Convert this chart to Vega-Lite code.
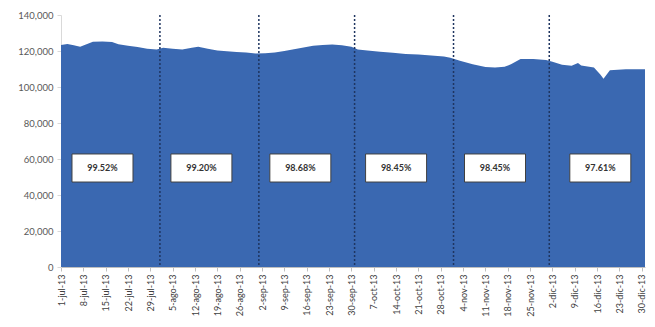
{
  "$schema": "https://vega.github.io/schema/vega-lite/v6.json",
  "width": 584,
  "height": 252,
  "autosize": {"type": "none"},
  "padding": {"left": 61, "top": 15, "right": 10, "bottom": 60},
  "background": "white",
  "config": {"view": {"stroke": null}, "font": "Lato"},
  "datasets": {
    "series": [
      {"date": "2013-07-01", "value": 123300},
      {"date": "2013-07-03", "value": 123900},
      {"date": "2013-07-05", "value": 123200},
      {"date": "2013-07-07", "value": 122300},
      {"date": "2013-07-09", "value": 123800},
      {"date": "2013-07-11", "value": 125200},
      {"date": "2013-07-14", "value": 125300},
      {"date": "2013-07-17", "value": 125000},
      {"date": "2013-07-19", "value": 123700},
      {"date": "2013-07-22", "value": 122900},
      {"date": "2013-07-25", "value": 122200},
      {"date": "2013-07-28", "value": 121300},
      {"date": "2013-07-31", "value": 120800},
      {"date": "2013-08-02", "value": 121800},
      {"date": "2013-08-05", "value": 121300},
      {"date": "2013-08-08", "value": 120900},
      {"date": "2013-08-11", "value": 121800},
      {"date": "2013-08-13", "value": 122300},
      {"date": "2013-08-16", "value": 121200},
      {"date": "2013-08-19", "value": 120300},
      {"date": "2013-08-22", "value": 119900},
      {"date": "2013-08-25", "value": 119500},
      {"date": "2013-08-28", "value": 119100},
      {"date": "2013-08-31", "value": 118600},
      {"date": "2013-09-03", "value": 118700},
      {"date": "2013-09-06", "value": 119200},
      {"date": "2013-09-09", "value": 120000},
      {"date": "2013-09-12", "value": 121000},
      {"date": "2013-09-15", "value": 122000},
      {"date": "2013-09-18", "value": 122900},
      {"date": "2013-09-21", "value": 123400},
      {"date": "2013-09-24", "value": 123600},
      {"date": "2013-09-27", "value": 123200},
      {"date": "2013-09-30", "value": 122400},
      {"date": "2013-10-02", "value": 120900},
      {"date": "2013-10-05", "value": 120300},
      {"date": "2013-10-09", "value": 119600},
      {"date": "2013-10-13", "value": 119000},
      {"date": "2013-10-17", "value": 118400},
      {"date": "2013-10-21", "value": 118000},
      {"date": "2013-10-25", "value": 117500},
      {"date": "2013-10-29", "value": 116900},
      {"date": "2013-10-31", "value": 116200},
      {"date": "2013-11-03", "value": 114600},
      {"date": "2013-11-07", "value": 112600},
      {"date": "2013-11-11", "value": 111100},
      {"date": "2013-11-14", "value": 110900},
      {"date": "2013-11-17", "value": 111200},
      {"date": "2013-11-19", "value": 112600},
      {"date": "2013-11-22", "value": 115600},
      {"date": "2013-11-26", "value": 115500},
      {"date": "2013-11-30", "value": 115000},
      {"date": "2013-12-02", "value": 114000},
      {"date": "2013-12-05", "value": 112400},
      {"date": "2013-12-08", "value": 111800},
      {"date": "2013-12-10", "value": 113300},
      {"date": "2013-12-11", "value": 112000},
      {"date": "2013-12-15", "value": 110900},
      {"date": "2013-12-17", "value": 107000},
      {"date": "2013-12-18", "value": 104600},
      {"date": "2013-12-20", "value": 109300},
      {"date": "2013-12-25", "value": 109800},
      {"date": "2013-12-31", "value": 109800}
    ],
    "boundaries": [
      {"date": "2013-08-01"},
      {"date": "2013-09-01"},
      {"date": "2013-10-01"},
      {"date": "2013-11-01"},
      {"date": "2013-12-01"}
    ],
    "months": [
      {"date": "2013-07-14", "label": "99.52%"},
      {"date": "2013-08-14", "label": "99.20%"},
      {"date": "2013-09-14", "label": "98.68%"},
      {"date": "2013-10-14", "label": "98.45%"},
      {"date": "2013-11-14", "label": "98.45%"},
      {"date": "2013-12-17", "label": "97.61%"}
    ]
  },
  "encoding": {
    "x": {
      "field": "date",
      "type": "temporal",
      "scale": {
        "type": "utc",
        "nice": false,
        "domain": [
          {"year": 2013, "month": "jul", "date": 1, "utc": true},
          {"year": 2013, "month": "dec", "date": 31, "utc": true}
        ]
      },
      "axis": {
        "title": null,
        "grid": false,
        "tickCount": 1000,
        "values": [1372636800000, 1373241600000, 1373846400000, 1374451200000, 1375056000000, 1375660800000, 1376265600000, 1376870400000, 1377475200000, 1378080000000, 1378684800000, 1379289600000, 1379894400000, 1380499200000, 1381104000000, 1381708800000, 1382313600000, 1382918400000, 1383523200000, 1384128000000, 1384732800000, 1385337600000, 1385942400000, 1386547200000, 1387152000000, 1387756800000, 1388361600000],
        "labelExpr": "utcdate(datum.value) + '-' + ['ene','feb','mar','abr','may','jun','jul','ago','sep','oct','nov','dic'][utcmonth(datum.value)] + '-13'",
        "labelAngle": -90,
        "labelAlign": "right",
        "labelBaseline": "middle",
        "labelFontSize": 9,
        "labelColor": "#404040",
        "labelPadding": 3,
        "labelOverlap": false,
        "labelFlush": false,
        "labelBound": false,
        "tickSize": 4,
        "tickColor": "#BFBFBF",
        "domainColor": "#BFBFBF"
      }
    }
  },
  "layer": [
    {
      "data": {"name": "series"},
      "mark": {"type": "area", "color": "#3A68B1", "opacity": 1, "interpolate": "linear"},
      "encoding": {
        "y": {
          "field": "value",
          "type": "quantitative",
          "scale": {"domain": [0, 140000], "nice": false},
          "axis": {
            "title": null,
            "grid": false,
            "tickCount": 100,
            "values": [0, 20000, 40000, 60000, 80000, 100000, 120000, 140000],
            "format": ",d",
            "labelOverlap": false,
            "labelFontSize": 9.5,
            "labelColor": "#595959",
            "labelPadding": 4,
            "tickSize": 4,
            "tickColor": "#D9D9D9",
            "domainColor": "#D9D9D9"
          }
        }
      }
    },
    {
      "data": {"name": "boundaries"},
      "mark": {"type": "rule", "color": "#1F3560", "strokeWidth": 1.5, "strokeDash": [2, 2]},
      "encoding": {}
    },
    {
      "data": {"name": "months"},
      "mark": {
        "type": "point",
        "shape": "M-1,-0.46L1,-0.46L1,0.46L-1,0.46Z",
        "size": 3721,
        "filled": true,
        "fill": "white",
        "stroke": "#404040",
        "strokeWidth": 1,
        "opacity": 1
      },
      "encoding": {
        "y": {"datum": 55000, "type": "quantitative"}
      }
    },
    {
      "data": {"name": "months"},
      "mark": {"type": "text", "fontSize": 9, "fontWeight": "bold", "color": "#333333", "align": "center", "baseline": "middle"},
      "encoding": {
        "y": {"datum": 55000, "type": "quantitative"},
        "text": {"field": "label"}
      }
    }
  ]
}
